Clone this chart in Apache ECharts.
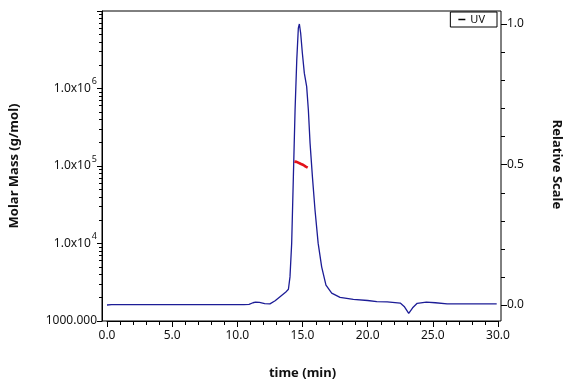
<!DOCTYPE html>
<html>
<head>
<meta charset="utf-8">
<script src="https://cdn.jsdelivr.net/npm/echarts@6/dist/echarts.min.js"></script>
<style>
html, body { margin: 0; padding: 0; background: #fff; }
#main { width: 580px; height: 386px; }
</style>
</head>
<body>
<div id="main"></div>
<script>
// UV trace (relative scale, right axis)
var uvTime  = [0.0, 0.15, 0.35, 2.0, 5.0, 8.0, 10.5, 10.9, 11.2, 11.4, 11.7, 12.1, 12.5, 12.9, 13.3, 13.7, 13.92,
               14.04, 14.17, 14.3, 14.43, 14.56, 14.68, 14.76, 14.86, 14.99, 15.14, 15.32, 15.45, 15.58, 15.76,
               15.96, 16.2, 16.47, 16.8, 17.24, 17.88, 18.9, 20.0, 20.7, 21.5, 22.5, 22.8, 23.15, 23.45, 23.8,
               24.5, 25.2, 26.1, 28.0, 29.9];
var uvValue = [0.0, 0.004, 0.001, 0.001, 0.001, 0.001, 0.001, 0.002, 0.008, 0.010, 0.009, 0.005, 0.004, 0.015, 0.030, 0.045, 0.056,
               0.10, 0.22, 0.457, 0.694, 0.872, 0.985, 1.0, 0.967, 0.896, 0.825, 0.777, 0.694, 0.576, 0.457,
               0.338, 0.22, 0.136, 0.071, 0.042, 0.027, 0.020, 0.016, 0.012, 0.011, 0.007, -0.005, -0.030, -0.010, 0.006,
               0.010, 0.008, 0.004, 0.004, 0.004];

// molar mass (left log axis)
var mmTime  = [14.38, 14.55, 14.68, 14.85, 15.07, 15.25, 15.4];
var mmValue = [1.14e5, 1.13e5, 1.10e5, 1.07e5, 1.03e5, 0.98e5, 0.95e5];

// minor tick values
var xMinor = [1, 2, 3, 4, 6, 7, 8, 9, 11, 12, 13, 14, 16, 17, 18, 19, 21, 22, 23, 24, 26, 27, 28, 29];
var rMinor = [0.1, 0.2, 0.3, 0.4, 0.6, 0.7, 0.8, 0.9];
var logMinor = [];
[1e3, 1e4, 1e5, 1e6].forEach(function (d) {
	for (var k = 2; k <= 9; k++) logMinor.push(d * k);
});

function zip(a, b) {
	return a.map(function (v, i) { return [v, b[i]]; });
}

var font = 'Noto Sans';
var tickStyle = { color: '#000', width: 1 };
var frame = { left: 102, right: 79, top: 11, bottom: 65 };   // outer box
var inner = { left: 107, right: 82 };                        // 0..30 min span

// short tick marks placed through the axes' scales
function tickSeries(name, xi, yi, data, vertical) {
	return {
		name: name, type: 'custom', xAxisIndex: xi, yAxisIndex: yi,
		data: data, clip: false, silent: true, z: 10,
		renderItem: function (params, api) {
			var p = api.coord([api.value(0), api.value(1)]);
			var shape;
			if (vertical) {
				var x = Math.round(p[0]) + 0.5, y = Math.round(p[1]);
				shape = { x1: x, y1: y, x2: x, y2: y + 4 };
			} else {
				var xr = Math.round(p[0]) + 3, yr = Math.round(p[1]) + 0.5;
				shape = { x1: xr, y1: yr, x2: xr + 4, y2: yr };
			}
			return { type: 'line', shape: shape, style: { stroke: '#000', lineWidth: 1 } };
		}
	};
}

var myChart = echarts.init(document.getElementById('main'));
var option = {
	backgroundColor: '#fff',
	animation: false,
	textStyle: { fontFamily: font },
	grid: [
		Object.assign({ show: true, borderColor: '#000', borderWidth: 1 }, frame),      // log axis + box
		Object.assign({ show: false }, frame),                                          // log minor ticks
		Object.assign({ show: false, top: 11, bottom: 65 }, inner),                     // time axis
		Object.assign({ show: false, top: 24, bottom: 81 }, inner)                      // relative scale
	],
	legend: {
		data: [{ name: 'UV', itemStyle: { color: '#000' } }],
		right: 83, top: 12,
		borderColor: '#000', borderWidth: 1, borderRadius: 0,
		padding: [2, 12, 2, 8],
		icon: 'rect', itemWidth: 7, itemHeight: 1.5, itemGap: 4,
		textStyle: { fontFamily: font, fontSize: 11, color: '#111' }
	},
	xAxis: [
		{ gridIndex: 0, type: 'value', min: -0.4, max: 30.25, show: false },
		{ gridIndex: 1, type: 'value', min: -0.4, max: 30.25, show: false },
		{
			gridIndex: 2, type: 'value', min: 0, max: 30, interval: 5, position: 'bottom',
			name: 'time (min)', nameLocation: 'middle', nameGap: 46,
			nameTextStyle: { fontFamily: font, fontSize: 13, fontWeight: 'bold', color: '#111' },
			axisLine: { onZero: false, lineStyle: { color: '#000' } },
			axisTick: { length: 6, lineStyle: tickStyle },
			axisLabel: {
				margin: 9, fontSize: 12, color: '#111',
				formatter: function (v) { return v.toFixed(1); }
			},
			splitLine: { show: false }
		},
		{ gridIndex: 3, type: 'value', min: 0, max: 30, show: false }
	],
	yAxis: [
		{
			gridIndex: 0, type: 'log', logBase: 10, min: 1e3, max: 1e7, position: 'left',
			name: 'Molar Mass (g/mol)', nameLocation: 'middle', nameGap: 81,
			nameTextStyle: { fontFamily: font, fontSize: 13, fontWeight: 'bold', color: '#111' },
			axisLine: { onZero: false, lineStyle: { color: '#000' } },
			axisTick: { length: 5, lineStyle: tickStyle },
			axisLabel: {
				margin: 5, color: '#111',
				formatter: function (v) {
					var e = Math.round(Math.log10(v));
					if (e === 3) return '{b|1000.000}';
					if (e >= 7) return '';
					return '{b|1.0x10}{s|' + e + '}';
				},
				rich: {
					b: { fontFamily: font, fontSize: 12, color: '#111' },
					s: { fontFamily: font, fontSize: 9, color: '#111', verticalAlign: 'top', padding: [0, 0, 14, 1] }
				}
			},
			splitLine: { show: false }
		},
		{
			gridIndex: 1, type: 'log', logBase: 10, min: 1e3, max: 1e7, position: 'left',
			axisLine: { show: false, onZero: false },
			axisTick: { show: true, customValues: logMinor, length: 3, lineStyle: tickStyle },
			axisLabel: { show: false },
			splitLine: { show: false }
		},
		{ gridIndex: 2, type: 'value', min: 0, max: 1, show: false },
		{
			gridIndex: 3, type: 'value', min: 0, max: 1, interval: 0.5, position: 'right', offset: 3,
			name: 'Relative Scale', nameLocation: 'middle', nameGap: 49, nameRotate: -90,
			nameTextStyle: { fontFamily: font, fontSize: 13, fontWeight: 'bold', color: '#111' },
			axisLine: { show: false, onZero: false },
			axisTick: { length: 6, lineStyle: tickStyle },
			axisLabel: {
				margin: 6, fontSize: 12, color: '#111',
				formatter: function (v) { return v.toFixed(1); }
			},
			splitLine: { show: false }
		}
	],
	series: [
		{
			name: 'UV', type: 'line', xAxisIndex: 3, yAxisIndex: 3,
			data: zip(uvTime, uvValue), clip: false,
			showSymbol: false, symbol: 'none',
			lineStyle: { color: '#1c1c96', width: 1.3 },
			itemStyle: { color: '#1c1c96' }
		},
		{
			name: 'Molar Mass', type: 'line', xAxisIndex: 0, yAxisIndex: 0,
			data: zip(mmTime, mmValue),
			showSymbol: false, symbol: 'none',
			lineStyle: { color: '#e3121a', width: 2.6 },
			itemStyle: { color: '#e3121a' }
		},
		tickSeries('xMinorTicks', 2, 2, xMinor.map(function (v) { return [v, 0]; }), true),
		tickSeries('rMinorTicks', 3, 3, rMinor.map(function (v) { return [30, v]; }), false)
	]
};
myChart.setOption(option);
</script>
</body>
</html>
